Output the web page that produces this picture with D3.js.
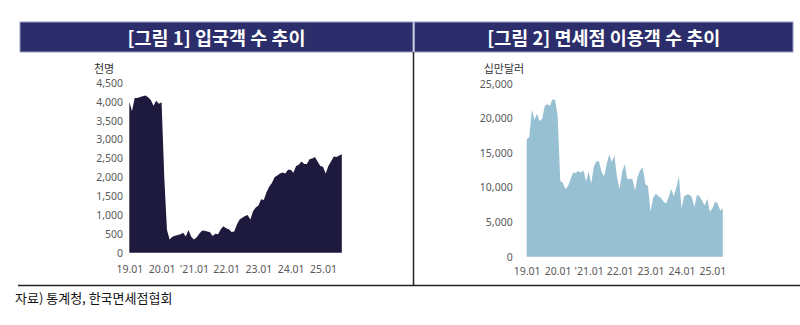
<!DOCTYPE html>
<html><head><meta charset="utf-8">
<script src="https://cdn.jsdelivr.net/npm/d3@7"></script>
<style>body{margin:0;background:#fff;}svg{display:block;font-family:"Noto Sans CJK KR","Noto Sans",sans-serif;}</style>
</head><body><svg id="c" width="800" height="325"></svg>
<script>
const titles = ["[그림 1] 입국객 수 추이", "[그림 2] 면세점 이용객 수 추이"];
const units = ["천명", "십만달러"];
const source = "자료) 통계청, 한국면세점협회";
const xTickLabels = ["19.01", "20.01", "'21.01", "22.01", "23.01", "24.01", "25.01"];
const xTickIndex = [0, 12, 24, 36, 48, 60, 72];
const yTicks1 = [0, 500, 1000, 1500, 2000, 2500, 3000, 3500, 4000, 4500];
const yTicks2 = [0, 5000, 10000, 15000, 20000, 25000];
// 입국객 (천명), monthly from 2019.01
const arrivals = [4000, 3750, 4100, 4100, 4130, 4150, 4170, 4120, 4050, 3900, 4030, 3950,
  3990, 2000, 600, 350, 420, 450, 470, 490, 530, 430, 600, 420,
  350, 400, 500, 580, 580, 560, 540, 440, 500, 490, 620, 700,
  650, 620, 550, 560, 750, 880, 930, 970, 1000, 880, 1100, 1200,
  1250, 1420, 1400, 1600, 1750, 1850, 2000, 2050, 2100, 2130, 2100, 2200,
  2200, 2120, 2300, 2330, 2420, 2350, 2350, 2480, 2500, 2540, 2420, 2300,
  2280, 2100, 2300, 2420, 2550, 2540, 2580, 2610];
// 면세점 매출 (십만달러), monthly from 2019.01
const dutyFree = [17000, 17300, 21300, 19800, 20700, 19600, 20000, 21800, 22100, 21800, 22800, 22700,
  20400, 11000, 10700, 9800, 10200, 11200, 12200, 12100, 12400, 12200, 12500, 10900,
  12300, 10600, 13000, 13800, 13800, 12300, 11600, 13400, 14800, 13700, 14600, 11500,
  9800, 12300, 13400, 11200, 11300, 11200, 9600, 11600, 12500, 12900, 10500, 10200,
  6500, 8500, 9100, 8800, 8500, 8000, 7700, 8600, 9800, 8800, 10000, 11700,
  7000, 8700, 9000, 9000, 8600, 7200, 9000, 8700, 8100, 7400, 8400, 6500,
  7000, 8000, 7700, 6700, 7000];

const svg = d3.select("#c");

// headers
const headers = [{x: 20, w: 393, t: titles[0]}, {x: 414.5, w: 378.5, t: titles[1]}];
headers.forEach(h => {
  svg.append("rect").attr("x", h.x).attr("y", 22).attr("width", h.w).attr("height", 30)
    .attr("fill", "#2b2e6a").attr("stroke", "#9a9cc4").attr("stroke-width", 1);
  svg.append("text").attr("x", h.x + h.w / 2).attr("y", 44.5).attr("text-anchor", "middle")
    .attr("fill", "#fff").attr("font-size", 18.5).attr("font-weight", "bold").text(h.t);
});
// separators
svg.append("line").attr("x1", 413.5).attr("x2", 413.5).attr("y1", 52).attr("y2", 286)
  .attr("stroke", "#222").attr("stroke-width", 1.5);
svg.append("line").attr("x1", 18).attr("x2", 800).attr("y1", 285.5).attr("y2", 285.5)
  .attr("stroke", "#222").attr("stroke-width", 1.5);
svg.append("text").attr("x", 15).attr("y", 303).attr("font-size", 13).attr("fill", "#111").text(source);

function panel(cfg) {
  const x = d3.scaleLinear().domain([0, cfg.n]).range([cfg.x0, cfg.x0 + cfg.n * cfg.step]);
  const y = d3.scaleLinear().domain([0, cfg.ymax]).range([cfg.yb, cfg.yt]);
  const area = d3.area().x((d, i) => x(i)).y0(y(0)).y1(d => y(d)).curve(d3.curveLinear);
  svg.append("path").datum(cfg.data).attr("d", area).attr("fill", cfg.color);
  const ya = svg.append("g").attr("transform", `translate(${cfg.lx},0)`)
    .call(d3.axisLeft(y).tickValues(cfg.ticks).tickSize(0).tickPadding(0).tickFormat(d3.format(",")));
  ya.select(".domain").remove();
  ya.selectAll("text").attr("font-size", 10.5).attr("fill", "#595959").attr("font-family", "'Noto Sans','Noto Sans CJK KR',sans-serif");
  const xa = svg.append("g").attr("transform", `translate(0,${cfg.xy})`)
    .call(d3.axisBottom(x).tickValues(xTickIndex).tickSize(0).tickPadding(0)
      .tickFormat((d, i) => xTickLabels[i]));
  xa.select(".domain").remove();
  xa.selectAll("text").attr("font-size", 10.5).attr("fill", "#595959").attr("font-family", "'Noto Sans','Noto Sans CJK KR',sans-serif");
  svg.append("text").attr("x", cfg.ux).attr("y", cfg.uy).attr("font-size", 11).attr("fill", "#333")
    .attr("text-anchor", "middle").text(cfg.unit);
}

panel({data: arrivals, n: arrivals.length - 1, x0: 129.3, step: 2.69, ymax: 4500, yb: 252.7, yt: 83,
  color: "#1d1a3d", ticks: yTicks1, lx: 123, xy: 266, ux: 104, uy: 73, unit: units[0]});
panel({data: dutyFree, n: dutyFree.length - 1, x0: 526.7, step: 2.58, ymax: 25000, yb: 256.7, yt: 84,
  color: "#98c0d3", ticks: yTicks2, lx: 512.7, xy: 268, ux: 504, uy: 73, unit: units[1]});
</script></body></html>
